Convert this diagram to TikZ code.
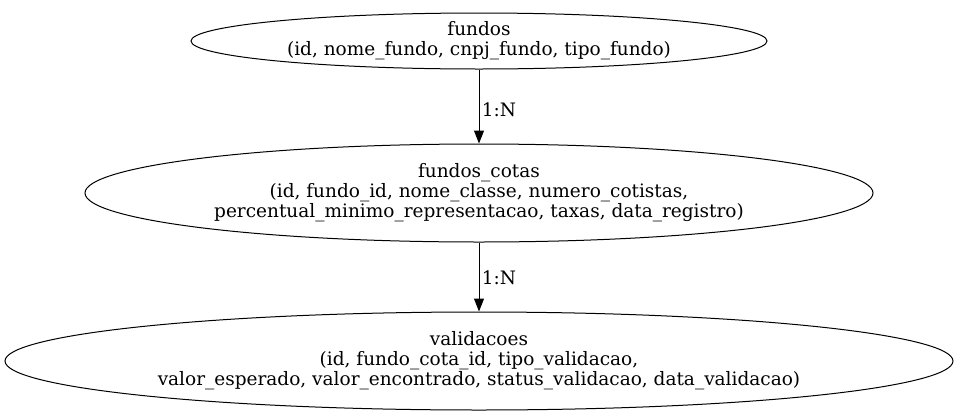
\documentclass[tikz,border=0pt]{standalone}
\usepackage{fontspec}
\setmainfont{DejaVu Serif}
\usetikzlibrary{shapes.geometric,arrows.meta}
\begin{document}
\begin{tikzpicture}[x=1pt,y=-1pt,
  entity/.style={ellipse,draw,line width=1pt,inner sep=0pt,align=center,
    font=\fontsize{18.5}{20}\selectfont},
  rel/.style={draw,line width=1pt,-{Triangle[length=13pt,width=10pt]}},
  lbl/.style={font=\fontsize{18.5}{20}\selectfont,anchor=west}]
\useasboundingbox (0,0) rectangle (959,418);
\node[entity,minimum width=576pt,minimum height=56pt] (fundos) at (479,41)
  {fundos\\(id, nome\_fundo, cnpj\_fundo, tipo\_fundo)};
\node[entity,minimum width=788pt,minimum height=98pt] (cotas) at (479,193)
  {fundos\_cotas\\(id, fundo\_id, nome\_classe, numero\_cotistas,\\percentual\_minimo\_representacao, taxas, data\_registro)};
\node[entity,minimum width=948pt,minimum height=98pt] (valid) at (479,361)
  {validacoes\\(id, fundo\_cota\_id, tipo\_validacao,\\valor\_esperado, valor\_encontrado, status\_validacao, data\_validacao)};
\draw[rel] (fundos) -- node[lbl,pos=0.5,xshift=-1pt,yshift=-3pt] {1:N} (cotas);
\draw[rel] (cotas) -- node[lbl,pos=0.5,xshift=-1pt,yshift=-1pt] {1:N} (valid);
\end{tikzpicture}
\end{document}
